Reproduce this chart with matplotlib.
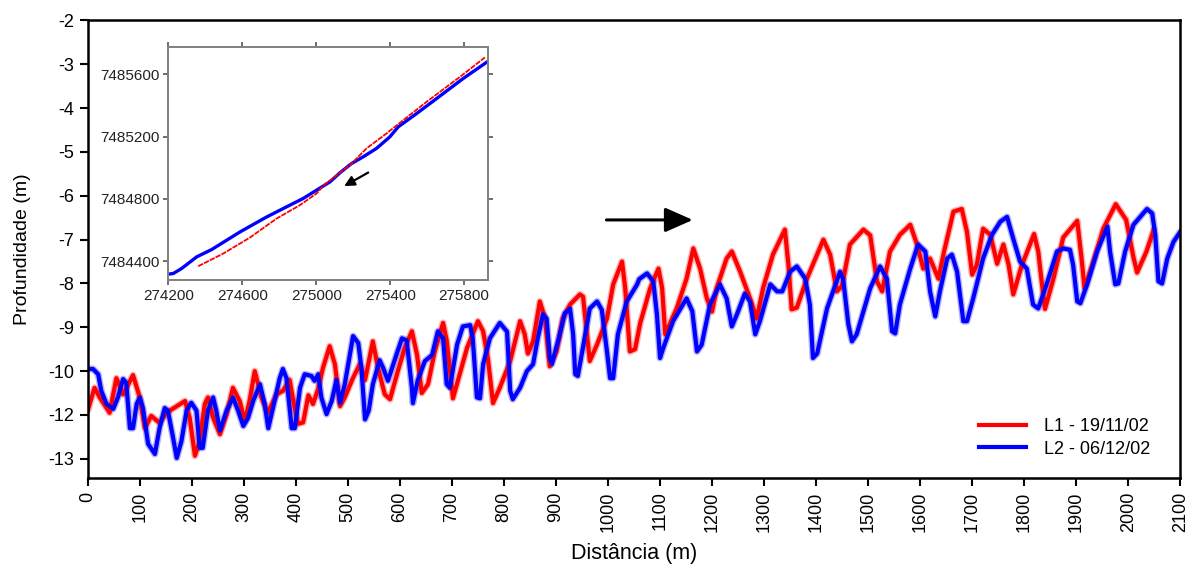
import matplotlib
matplotlib.use("Agg")
import matplotlib.pyplot as plt

plt.rcParams['font.family'] = ['Liberation Sans', 'DejaVu Sans']

# ---- main profile data (distance m, depth m) ----
l1_x = [0, 13, 23, 42, 55, 68, 87, 100, 110, 122, 138, 151, 171, 187, 196, 206, 215, 225, 231, 241,
        254, 267, 279, 292, 302, 311, 321, 334, 346, 363, 375, 388, 394, 404, 414, 424, 433, 443, 452, 465,
        475, 485, 494, 510, 523, 533, 548, 558, 571, 581, 596, 609, 623, 633, 642, 654, 667, 683, 690, 702,
        729, 750, 760, 769, 779, 792, 812, 831, 840, 846, 856, 869, 879, 888, 901, 913, 927, 946, 952, 959,
        965, 979, 998, 1010, 1027, 1033, 1042, 1052, 1062, 1081, 1097, 1104, 1110, 1116, 1132, 1151, 1164, 1177, 1190, 1200,
        1209, 1228, 1238, 1254, 1273, 1286, 1298, 1317, 1340, 1347, 1353, 1363, 1382, 1414, 1427, 1440, 1450, 1465, 1491, 1504,
        1517, 1527, 1542, 1561, 1581, 1594, 1606, 1619, 1635, 1646, 1664, 1680, 1690, 1700, 1709, 1721, 1735, 1748, 1760, 1770,
        1779, 1795, 1819, 1827, 1834, 1840, 1856, 1875, 1902, 1910, 1916, 1933, 1952, 1976, 1996, 2010, 2017, 2035, 2049]
l1_y = [-10.9, -10.38, -10.6, -10.95, -10.16, -10.53, -10.09, -10.6, -11.3, -11.02, -11.18, -10.95, -10.8, -10.68, -11.07, -11.93, -11.6, -10.75, -10.6, -11.06,
        -11.44, -10.98, -10.38, -10.68, -11.14, -10.68, -10.0, -10.6, -10.95, -10.53, -10.45, -10.2, -10.6, -11.2, -11.17, -10.55, -10.75, -10.4, -9.93, -9.43,
        -9.84, -10.8, -10.6, -10.15, -9.84, -10.2, -9.32, -9.93, -10.53, -10.64, -10.0, -9.48, -9.09, -9.63, -10.5, -10.3, -9.55, -8.9, -9.3, -10.62,
        -9.47, -8.86, -9.09, -9.7, -10.73, -10.38, -9.77, -8.86, -9.16, -9.6, -9.32, -8.41, -8.8, -9.89, -9.55, -8.8, -8.48, -8.25, -8.3, -9.09,
        -9.77, -9.39, -8.8, -8.02, -7.5, -8.1, -9.55, -9.5, -8.9, -8.11, -7.66, -8.1, -9.16, -9.0, -8.57, -7.89, -7.2, -7.66, -8.34, -8.64,
        -8.1, -7.43, -7.27, -7.73, -8.34, -8.8, -8.11, -7.34, -6.77, -7.6, -8.59, -8.55, -7.9, -7.0, -7.34, -8.18, -8.05, -7.11, -6.77, -6.9,
        -7.95, -8.18, -7.27, -6.89, -6.66, -7.11, -7.66, -7.43, -7.89, -7.27, -6.36, -6.3, -6.82, -7.8, -7.57, -6.75, -6.89, -7.55, -7.11, -7.57,
        -8.25, -7.6, -6.87, -7.27, -8.0, -8.58, -7.9, -6.95, -6.57, -7.4, -8.11, -7.5, -6.75, -6.19, -6.55, -7.4, -7.75, -7.27, -6.77]

l2_x = [0, 10, 20, 26, 36, 49, 58, 68, 74, 81, 87, 94, 100, 106, 116, 129, 138, 148, 154, 164,
        171, 180, 190, 199, 209, 215, 221, 231, 241, 247, 254, 267, 279, 289, 299, 308, 318, 331, 340, 347,
        356, 369, 375, 382, 392, 398, 408, 417, 430, 436, 443, 449, 459, 469, 478, 485, 494, 510, 520, 526,
        533, 540, 548, 561, 568, 577, 594, 604, 613, 623, 625, 634, 648, 662, 673, 683, 690, 696, 710, 721,
        735, 740, 748, 754, 760, 773, 792, 806, 812, 817, 831, 844, 856, 865, 875, 882, 888, 892, 904, 917,
        927, 933, 937, 942, 952, 965, 979, 988, 998, 1004, 1010, 1019, 1036, 1056, 1060, 1075, 1087, 1094, 1100, 1106,
        1125, 1151, 1162, 1171, 1180, 1196, 1215, 1228, 1238, 1248, 1263, 1273, 1283, 1292, 1312, 1325, 1335, 1350, 1363, 1379,
        1388, 1394, 1402, 1421, 1446, 1452, 1462, 1469, 1478, 1504, 1523, 1536, 1546, 1552, 1561, 1581, 1596, 1610, 1619, 1629,
        1638, 1652, 1661, 1671, 1683, 1690, 1702, 1721, 1738, 1754, 1767, 1779, 1792, 1805, 1817, 1827, 1843, 1863, 1875, 1888,
        1894, 1902, 1908, 1921, 1940, 1960, 1965, 1975, 1981, 1994, 2010, 2036, 2046, 2052, 2058, 2065, 2075, 2087, 2100]
l2_y = [-9.95, -9.95, -10.07, -10.45, -10.75, -10.86, -10.6, -10.18, -10.27, -11.3, -11.3, -10.75, -10.6, -10.84, -11.66, -11.89, -11.3, -10.84, -10.9, -11.52,
        -11.98, -11.6, -10.9, -10.72, -10.9, -11.75, -11.75, -10.9, -10.6, -10.9, -11.36, -10.9, -10.6, -10.9, -11.25, -11.07, -10.68, -10.3, -10.75, -11.3,
        -10.84, -10.16, -9.95, -10.16, -11.3, -11.3, -10.38, -10.07, -10.11, -10.22, -10.07, -10.6, -10.98, -10.68, -10.2, -10.73, -10.3, -9.2, -9.36, -9.93,
        -11.1, -10.9, -10.3, -9.75, -9.93, -10.22, -9.6, -9.25, -9.3, -10.38, -10.73, -10.22, -9.77, -9.63, -9.09, -9.25, -10.3, -10.38, -9.39, -8.98,
        -8.95, -9.25, -10.6, -10.62, -9.84, -9.25, -8.9, -9.1, -10.45, -10.64, -10.38, -10.0, -9.84, -9.25, -8.7, -8.8, -9.7, -9.84, -9.32, -8.68,
        -8.57, -9.16, -10.07, -10.11, -9.45, -8.57, -8.41, -8.6, -9.55, -10.16, -10.16, -9.16, -8.41, -8.02, -7.9, -7.77, -7.95, -8.7, -9.7, -9.48,
        -8.86, -8.34, -8.63, -9.55, -9.4, -8.48, -8.02, -8.34, -8.98, -8.7, -8.23, -8.41, -9.16, -8.86, -8.02, -8.18, -8.18, -7.73, -7.61, -7.89,
        -8.48, -9.7, -9.6, -8.57, -7.73, -7.9, -8.93, -9.32, -9.16, -8.11, -7.61, -7.89, -9.09, -9.14, -8.48, -7.66, -7.11, -7.27, -8.18, -8.75,
        -8.18, -7.43, -7.34, -7.73, -8.86, -8.86, -8.34, -7.43, -6.89, -6.59, -6.48, -6.98, -7.5, -7.66, -8.48, -8.57, -8.02, -7.27, -7.2, -7.23,
        -7.57, -8.41, -8.45, -8.02, -7.27, -6.7, -7.27, -8.02, -8.0, -7.27, -6.66, -6.3, -6.4, -6.89, -7.95, -8.0, -7.43, -7.05, -6.82]

# ---- inset (map coordinates) ----
in_l1_e = [274362, 274497, 274642, 274786, 274912, 275002, 275047, 275182, 275272, 275380, 275470, 275597, 275777, 275912]
in_l1_n = [7484368, 7484449, 7484552, 7484674, 7484760, 7484835, 7484894, 7485016, 7485124, 7485220, 7485305, 7485423, 7485583, 7485708]
in_l2_e = [274200, 274227, 274272, 274354, 274435, 274588, 274732, 274858, 274930, 275002, 275074, 275128, 275191,
           275254, 275326, 275398, 275443, 275543, 275651, 275795, 275930]
in_l2_n = [7484317, 7484321, 7484353, 7484428, 7484475, 7484588, 7484684, 7484760, 7484803, 7484856, 7484909, 7484967, 7485027,
           7485070, 7485124, 7485198, 7485262, 7485348, 7485444, 7485573, 7485684]

x_ticks = list(range(0, 2101, 100))
y_ticks = [-2, -3, -4, -5, -6, -7, -8, -9, -10, -11, -12]
y_tick_labels = ["-2", "-3", "-4", "-5", "-6", "-7", "-8", "-9", "-10", "-12", "-13"]
in_x_ticks = [274200, 274600, 275000, 275400, 275800]
in_y_ticks = [7484400, 7484800, 7485200, 7485600]
legend_labels = ["L1 - 19/11/02", "L2 - 06/12/02"]

RED = "#ff0000"
BLUE = "#0000ff"

fig = plt.figure(figsize=(11.94, 5.69), dpi=100)
ax = fig.add_axes([0.0735, 0.1605, 0.9150, 0.8035])

ax.plot(l1_x, l1_y, color=RED, lw=5, alpha=0.3, solid_joinstyle='round', solid_capstyle='round')
ax.plot(l2_x, l2_y, color=BLUE, lw=5, alpha=0.3, solid_joinstyle='round', solid_capstyle='round')
h1, = ax.plot(l1_x, l1_y, color=RED, lw=3.0, solid_joinstyle='round', label=legend_labels[0])
h2, = ax.plot(l2_x, l2_y, color=BLUE, lw=3.0, solid_joinstyle='round', label=legend_labels[1])

ax.set_xlim(0, 2100)
ax.set_ylim(-12.43, -2)
ax.set_xticks(x_ticks)
ax.set_xticklabels([str(v) for v in x_ticks], rotation=90, fontsize=13)
ax.set_yticks(y_ticks)
ax.set_yticklabels(y_tick_labels, fontsize=13)
ax.tick_params(direction='out', length=6, width=1.5, top=False, right=False, pad=4)
for s in ax.spines.values():
    s.set_linewidth(1.8)
    s.set_color('black')
ax.set_xlabel("Distância (m)", fontsize=15.5, labelpad=8)
ax.set_ylabel("Profundidade (m)", fontsize=14, labelpad=12)

leg = ax.legend(handles=[h1, h2], loc='lower right', bbox_to_anchor=(0.979, 0.028),
                frameon=False, fontsize=13, handlelength=2.6, handletextpad=1.0,
                labelspacing=0.3, borderaxespad=0)
for lh in leg.get_lines():
    lh.set_linewidth(3.0)

# direction arrow in the main plot
ax.annotate("", xy=(1163, -6.55), xytext=(997, -6.55),
            arrowprops=dict(arrowstyle="-|>,head_length=1.7,head_width=0.75", color='black', lw=2.2,
                            shrinkA=0, shrinkB=0))

# ---- inset map ----
ins = fig.add_axes([0.1409, 0.5075, 0.2680, 0.4105])
ins.plot(in_l2_e, in_l2_n, color=BLUE, lw=2.4)
ins.plot(in_l1_e, in_l1_n, color=RED, lw=1.3, ls=(0, (3, 0.6)))
ins.set_xlim(274200, 275930)
ins.set_ylim(7484278, 7485777)
ins.set_xticks(in_x_ticks)
ins.set_xticklabels([str(v) for v in in_x_ticks])
ins.set_yticks(in_y_ticks)
ins.set_yticklabels([str(v) for v in in_y_ticks])
ins.tick_params(direction='out', length=3.5, width=1.2, colors='#555555', labelcolor='#222222',
                labelsize=11, top=True, right=True, labeltop=False, labelright=False, pad=3)
for s in ins.spines.values():
    s.set_linewidth(1.4)
    s.set_color('#808080')
ins.annotate("", xy=(275151, 7484882), xytext=(275281, 7484969),
             arrowprops=dict(arrowstyle="-|>,head_length=0.6,head_width=0.3", color='black', lw=1.6,
                             shrinkA=0, shrinkB=0))

fig.savefig("out.png", dpi=100)
